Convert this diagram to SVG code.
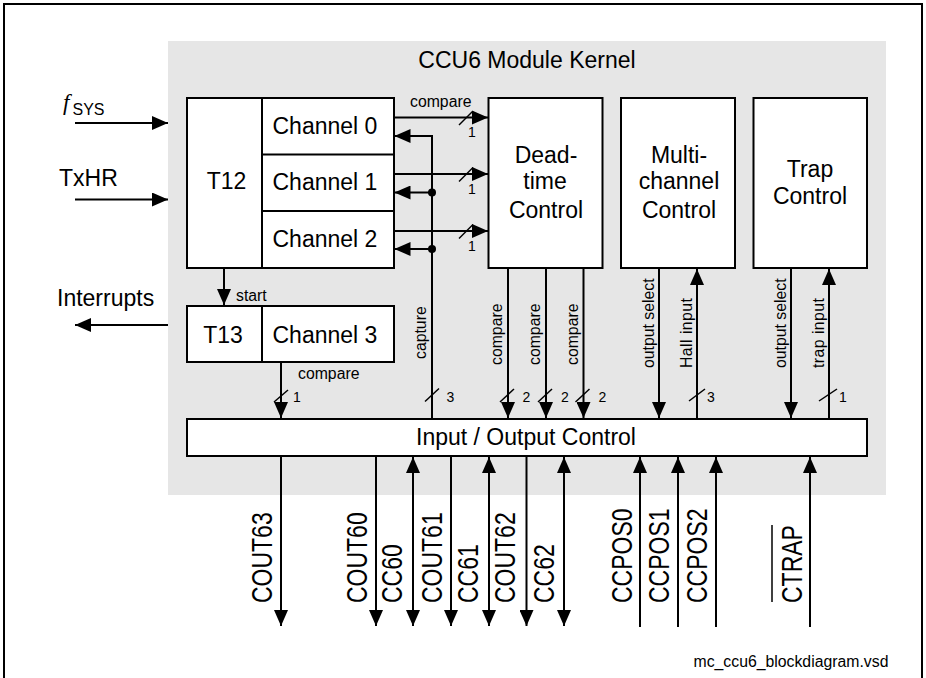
<svg xmlns="http://www.w3.org/2000/svg" width="926" height="678" viewBox="0 0 926 678">
<defs>
<style>
.t{font-family:"Liberation Sans",Arial,sans-serif;fill:#000}
.big{font-size:23px}
.sm{font-size:15.8px}
.num{font-size:14px}
.pin{font-size:23px}
.box{fill:#fff;stroke:#000;stroke-width:2}
.ln{fill:none;stroke:#000;stroke-width:2}
.arr{fill:none;stroke:#000;stroke-width:2;marker-end:url(#ah)}
.bi{fill:none;stroke:#000;stroke-width:2;marker-end:url(#ah);marker-start:url(#ahs)}
.sl{fill:none;stroke:#000;stroke-width:1.5}
</style>
<marker id="ah" viewBox="-16 -7 16 14" refX="0" refY="0" markerWidth="16" markerHeight="14" orient="auto" markerUnits="userSpaceOnUse"><path d="M0,0 L-16,-7 L-16,7 Z" fill="#000"/></marker>
<marker id="ahs" viewBox="-16 -7 16 14" refX="0" refY="0" markerWidth="16" markerHeight="14" orient="auto-start-reverse" markerUnits="userSpaceOnUse"><path d="M0,0 L-16,-7 L-16,7 Z" fill="#000"/></marker>
</defs>
<rect width="926" height="678" fill="#fff"/>
<path d="M4,690 V4 H922 V690" fill="none" stroke="#000" stroke-width="2"/>
<rect x="168" y="41" width="718" height="454" fill="#e6e6e6"/>
<text class="t big" x="527" y="68" text-anchor="middle">CCU6 Module Kernel</text>

<g id="T12">
<rect class="box" x="187" y="98" width="207" height="170"/>
<line class="ln" x1="262" y1="98" x2="262" y2="268"/>
<text class="t big" x="226.5" y="188.5" text-anchor="middle">T12</text>
</g>
<g id="channel0">
<line class="ln" x1="262" y1="154.5" x2="394" y2="154.5"/>
<text class="t big" x="272.5" y="134">Channel 0</text>
</g>
<g id="channel1">
<line class="ln" x1="262" y1="211" x2="394" y2="211"/>
<text class="t big" x="272.5" y="190">Channel 1</text>
</g>
<g id="channel2">
<text class="t big" x="272.5" y="247">Channel 2</text>
</g>
<g id="T13">
<rect class="box" x="187" y="306" width="207" height="56"/>
<line class="ln" x1="262" y1="306" x2="262" y2="362"/>
<text class="t big" x="223" y="342.5" text-anchor="middle">T13</text>
<text class="t big" x="272.5" y="342.5">Channel 3</text>
</g>
<g id="deadtime">
<rect class="box" x="488.5" y="98" width="114" height="170"/>
<text class="t big" x="546" y="162.5" text-anchor="middle">Dead-</text>
<text class="t big" x="545" y="189" text-anchor="middle">time</text>
<text class="t big" x="546" y="218" text-anchor="middle">Control</text>
</g>
<g id="multichannel">
<rect class="box" x="621" y="98" width="114" height="170"/>
<text class="t big" x="679" y="162.5" text-anchor="middle">Multi-</text>
<text class="t big" x="679" y="189" text-anchor="middle">channel</text>
<text class="t big" x="679" y="218" text-anchor="middle">Control</text>
</g>
<g id="trap">
<rect class="box" x="753.5" y="98" width="113.5" height="170"/>
<text class="t big" x="810" y="176.5" text-anchor="middle">Trap</text>
<text class="t big" x="810" y="203.5" text-anchor="middle">Control</text>
</g>
<g id="io">
<rect class="box" x="187" y="419" width="680" height="37"/>
<text class="t big" x="526" y="445" text-anchor="middle">Input / Output Control</text>
</g>

<g id="connectors">
<line class="arr" x1="75" y1="123" x2="168" y2="123"/>
<line class="arr" x1="75" y1="199.5" x2="168" y2="199.5"/>
<line class="arr" x1="168" y1="325" x2="75" y2="325"/>
<line class="arr" x1="394" y1="117.5" x2="488" y2="117.5"/>
<line class="arr" x1="394" y1="174" x2="488" y2="174"/>
<line class="arr" x1="394" y1="231" x2="488" y2="231"/>
<line class="sl" x1="459" y1="125" x2="473" y2="111"/>
<line class="sl" x1="459" y1="181.5" x2="473" y2="167.5"/>
<line class="sl" x1="459" y1="238.5" x2="473" y2="224.5"/>
<path class="arr" d="M432,419 V136 H394.5"/>
<line class="arr" x1="432" y1="192.5" x2="394.5" y2="192.5"/>
<line class="arr" x1="432" y1="249" x2="394.5" y2="249"/>
<circle cx="432" cy="192.5" r="4"/>
<circle cx="432" cy="249" r="4"/>
<line class="sl" x1="425" y1="401.5" x2="439" y2="388.5"/>
<line class="arr" x1="224" y1="268" x2="224" y2="305"/>
<line class="arr" x1="281" y1="362" x2="281" y2="418"/>
<line class="sl" x1="274" y1="402" x2="288" y2="390"/>
<line class="arr" x1="508" y1="268" x2="508" y2="418"/>
<line class="arr" x1="546" y1="268" x2="546" y2="418"/>
<line class="arr" x1="583.5" y1="268" x2="583.5" y2="418"/>
<line class="sl" x1="500" y1="402" x2="514" y2="389"/>
<line class="sl" x1="538" y1="402" x2="552" y2="389"/>
<line class="sl" x1="575.5" y1="402" x2="589.5" y2="389"/>
<line class="arr" x1="659" y1="268" x2="659" y2="418"/>
<line class="arr" x1="697" y1="419" x2="697" y2="269"/>
<line class="sl" x1="689" y1="401" x2="705" y2="389"/>
<line class="arr" x1="791" y1="268" x2="791" y2="418"/>
<line class="arr" x1="829" y1="419" x2="829" y2="269"/>
<line class="sl" x1="819" y1="401" x2="837" y2="389"/>
<line class="arr" x1="281" y1="456" x2="281" y2="626"/>
<line class="arr" x1="376" y1="456" x2="376" y2="626"/>
<line class="bi" x1="413" y1="457" x2="413" y2="626"/>
<line class="arr" x1="451" y1="456" x2="451" y2="626"/>
<line class="bi" x1="489" y1="457" x2="489" y2="626"/>
<line class="arr" x1="526.5" y1="456" x2="526.5" y2="626"/>
<line class="bi" x1="564" y1="457" x2="564" y2="626"/>
<line class="arr" x1="640" y1="627" x2="640" y2="457"/>
<line class="arr" x1="678" y1="627" x2="678" y2="457"/>
<line class="arr" x1="716" y1="627" x2="716" y2="457"/>
<line class="arr" x1="810" y1="627" x2="810" y2="457"/>
</g>

<g id="labels">
<text x="63" y="110" font-family="Liberation Serif,serif" font-style="italic" font-size="23">f</text>
<text class="t" x="72.5" y="115" font-size="16">SYS</text>
<text class="t big" x="59" y="186">TxHR</text>
<text class="t big" x="57" y="306">Interrupts</text>
<text class="t sm" x="410" y="106.5">compare</text>
<text class="t sm" x="236" y="300.5">start</text>
<text class="t sm" x="298" y="378.5">compare</text>
<text class="t num" x="468" y="137">1</text>
<text class="t num" x="468" y="194">1</text>
<text class="t num" x="468" y="251">1</text>
<text class="t num" x="293" y="402">1</text>
<text class="t num" x="446.5" y="402">3</text>
<text class="t num" x="522.5" y="402">2</text>
<text class="t num" x="561" y="402">2</text>
<text class="t num" x="598.5" y="402">2</text>
<text class="t num" x="707" y="402">3</text>
<text class="t num" x="839" y="402">1</text>
<text class="t sm" transform="translate(425.5,359) rotate(-90)">capture</text>
<text class="t sm" transform="translate(502,365) rotate(-90)">compare</text>
<text class="t sm" transform="translate(540,365) rotate(-90)">compare</text>
<text class="t sm" transform="translate(578,365) rotate(-90)">compare</text>
<text class="t sm" transform="translate(653.5,368) rotate(-90)">output select</text>
<text class="t sm" transform="translate(692,368) rotate(-90)" textLength="70">Hall input</text>
<text class="t sm" transform="translate(785.5,368) rotate(-90)">output select</text>
<text class="t sm" transform="translate(823.5,368) rotate(-90)" textLength="70">trap input</text>
<text class="t pin" transform="translate(272,603) rotate(-90) scale(1,1.3)">COUT63</text>
<text class="t pin" transform="translate(366.5,603) rotate(-90) scale(1,1.3)">COUT60</text>
<text class="t pin" transform="translate(401.5,603) rotate(-90) scale(1,1.3)">CC60</text>
<text class="t pin" transform="translate(441.5,603) rotate(-90) scale(1,1.3)">COUT61</text>
<text class="t pin" transform="translate(478,603) rotate(-90) scale(1,1.3)">CC61</text>
<text class="t pin" transform="translate(515,603) rotate(-90) scale(1,1.3)">COUT62</text>
<text class="t pin" transform="translate(554,603) rotate(-90) scale(1,1.3)">CC62</text>
<text class="t pin" transform="translate(631.5,603) rotate(-90) scale(1,1.3)">CCPOS0</text>
<text class="t pin" transform="translate(668.5,603) rotate(-90) scale(1,1.3)">CCPOS1</text>
<text class="t pin" transform="translate(706.5,603) rotate(-90) scale(1,1.3)">CCPOS2</text>
<text class="t pin" transform="translate(801.5,603) rotate(-90) scale(1,1.3)">CTRAP</text>
<line x1="772" y1="525" x2="772" y2="602" stroke="#000" stroke-width="1.5"/>
<text class="t" x="693.5" y="666.5" font-size="15.8">mc_ccu6_blockdiagram.vsd</text>
</g>
</svg>
